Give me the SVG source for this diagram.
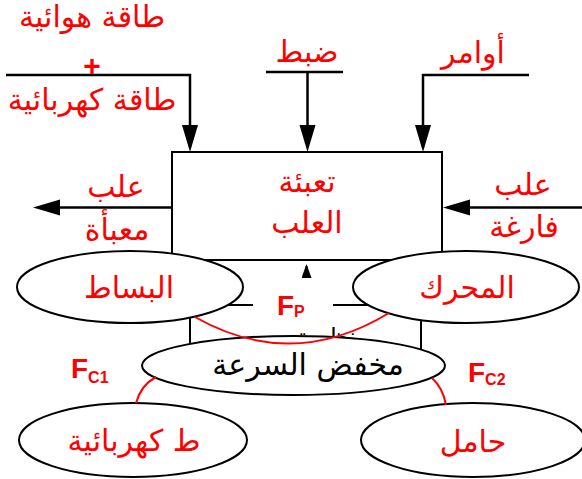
<svg xmlns="http://www.w3.org/2000/svg" width="582" height="479" viewBox="0 0 582 479">
<defs>
<style>
.ln{stroke:#000;stroke-width:2.5;fill:none}
.bx{stroke:#000;stroke-width:2;fill:#fff}
.el{stroke:#000;stroke-width:2;fill:#fff}
.ar{font-family:"DejaVu Sans",sans-serif;font-size:30px;fill:#ff0000;text-anchor:middle}
.blk{fill:#000}
.red{stroke:#ff0000;stroke-width:2;fill:none}
.f{font-family:"Liberation Sans",Arial,sans-serif;font-weight:bold;fill:#ff0000}
</style>
<marker id="ah" markerUnits="userSpaceOnUse" markerWidth="28" markerHeight="17" refX="22" refY="8" orient="auto">
<path d="M0,0 L27,8 L0,16 z" fill="#000"/>
</marker>
<marker id="ahs" markerUnits="userSpaceOnUse" markerWidth="15" markerHeight="11" refX="12" refY="5" orient="auto">
<path d="M0,0 L14,5 L0,10 z" fill="#000"/>
</marker>
</defs>

<g id="box-main">
<rect class="bx" x="172" y="152" width="270" height="108"/>
<text class="ar" x="307" y="192">تعبئة</text>
<text class="ar" x="307" y="233">العلب</text>
</g>

<g id="box-transmission">
<rect class="bx" x="190" y="305" width="231" height="60"/>
<text class="ar blk" x="356" y="345" style="text-anchor:end;font-size:24px">نظم تسيير</text>
</g>

<g id="connectors">
<polyline class="ln" points="6,75 190,75 190,147" marker-end="url(#ah)"/>
<polyline class="ln" points="266,72 343,72"/>
<line class="ln" x1="307.5" y1="72" x2="307.5" y2="147" marker-end="url(#ah)"/>
<polyline class="ln" points="529,75 423,75 423,147" marker-end="url(#ah)"/>
<line class="ln" x1="172" y1="207.5" x2="38" y2="207.5" marker-end="url(#ah)"/>
<line class="ln" x1="582" y1="207.5" x2="448" y2="207.5" marker-end="url(#ah)"/>
</g>

<g id="inputs-labels">
<text class="ar" x="92" y="27">طاقة هوائية</text>
<text x="92" y="76" style="font-family:'Liberation Sans',sans-serif;font-weight:bold;font-size:30px;fill:#ff0000;text-anchor:middle">+</text>
<text class="ar" x="92" y="110">طاقة كهربائية</text>
<text class="ar" x="307" y="62">ضبط</text>
<text class="ar" x="473" y="63">أوامر</text>
<text class="ar" x="116" y="197">علب</text>
<text class="ar" x="117" y="240">معبأة</text>
<text class="ar" x="523" y="195">علب</text>
<text class="ar" x="524" y="237">فارغة</text>
</g>

<g id="node-belt">
<ellipse class="el" cx="130" cy="287" rx="113" ry="36"/>
<text class="ar" x="129" y="298">البساط</text>
</g>

<g id="node-motor">
<ellipse class="el" cx="466" cy="287" rx="113" ry="36"/>
<text class="ar" x="467" y="298">المحرك</text>
</g>

<g id="node-reducer">
<ellipse class="el" cx="293.5" cy="365.5" rx="151.5" ry="29.5"/>
<text class="ar blk" x="308" y="375">مخفض السرعة</text>
</g>

<g id="node-elec">
<ellipse class="el" cx="133" cy="440" rx="114" ry="37"/>
<text class="ar" x="134" y="451">ط كهربائية</text>
</g>

<g id="node-carrier">
<ellipse class="el" cx="473" cy="440" rx="112" ry="37"/>
<text class="ar" x="473" y="452">حامل</text>
</g>

<g id="force-links">
<rect x="253" y="276" width="80" height="34" fill="#fff"/>
<line class="ln" x1="306.5" y1="276" x2="306.5" y2="266" style="stroke-width:2" marker-end="url(#ahs)"/>
<path class="red" d="M195,317 Q292,372 389,313"/>
<path class="red" d="M136,403 Q141,385 156,377"/>
<path class="red" d="M432,378 Q443,388 446,405"/>
</g>

<g id="force-labels">
<text class="f" x="277" y="315" font-size="28">F<tspan font-size="16" dy="2">P</tspan></text>
<text class="f" x="71" y="378" font-size="28">F<tspan font-size="16" dy="5">C1</tspan></text>
<text class="f" x="468" y="382" font-size="28">F<tspan font-size="16" dy="3">C2</tspan></text>
</g>
</svg>
